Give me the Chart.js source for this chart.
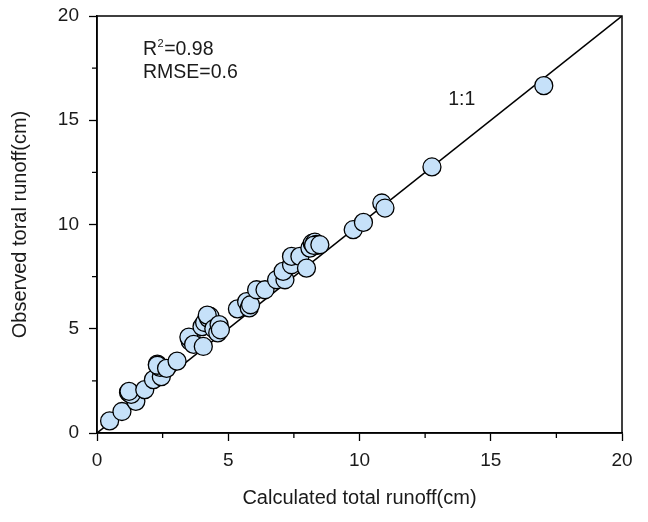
<!DOCTYPE html>
<html>
<head>
<meta charset="utf-8">
<script src="https://cdn.jsdelivr.net/npm/chart.js@4/dist/chart.umd.min.js"></script>
<style>
  html, body { margin: 0; padding: 0; background: #fff; }
  #wrap { width: 648px; height: 522px; }
</style>
</head>
<body>
<div id="wrap"><canvas id="c" width="648" height="522"></canvas></div>
<script>
// ---- Data ----
const calculated = [
  0.48, 0.95, 1.48, 1.20, 1.25, 1.30, 1.22, 1.82, 2.15, 2.45,
  2.30, 2.35, 2.40, 2.30, 2.65, 3.05, 3.55, 3.60, 3.50, 3.68,
  4.05, 4.00, 4.10, 4.25, 4.30, 4.20, 4.45, 4.60, 4.65, 4.70,
  5.35, 5.70, 5.80, 5.85, 6.08, 6.40, 6.84, 7.16, 7.09, 7.41,
  7.41, 7.73, 7.98, 8.11, 8.20, 8.30, 8.35, 8.40, 8.25, 8.49,
  9.76, 10.15, 10.85, 10.97, 12.76, 17.02
];
const observed = [
  0.58, 1.03, 1.52, 1.95, 1.90, 1.85, 2.00, 2.08, 2.56, 2.70,
  3.30, 3.22, 3.15, 3.25, 3.10, 3.45, 4.40, 4.50, 4.60, 4.25,
  4.15, 5.10, 5.30, 5.50, 5.60, 5.65, 5.00, 4.80, 5.20, 4.95,
  5.95, 6.30, 6.00, 6.15, 6.87, 6.87, 7.35, 7.35, 7.75, 8.07,
  8.47, 8.47, 7.91, 8.87, 9.10, 9.15, 9.05, 9.00, 9.00, 9.03,
  9.75, 10.10, 11.03, 10.79, 12.76, 16.66
];
const oneToOneX = [0, 20];
const oneToOneY = [0, 20];
const majorTicks = [0, 5, 10, 15, 20];
const minorTicks = [2.5, 7.5, 12.5, 17.5];
const xTitle = 'Calculated total runoff(cm)';
const yTitle = 'Observed toral runoff(cm)';
const statR2 = '0.98';
const statRMSE = '0.6';
const lineLabel = '1:1';

const FONT = "'Liberation Sans', Arial, sans-serif";
const TXT = '#1a1a1a';

const points = calculated.map((x, i) => ({ x: x, y: observed[i] }));
const linePts = oneToOneX.map((x, i) => ({ x: x, y: oneToOneY[i] }));

const decor = {
  id: 'decor',
  afterDraw(chart) {
    const { ctx, chartArea: a, scales: { x, y } } = chart;
    ctx.save();
    ctx.strokeStyle = '#000';
    ctx.lineWidth = 1.5;
    ctx.strokeRect(a.left, a.top, a.right - a.left, a.bottom - a.top);
    ctx.lineWidth = 1.3;
    ctx.beginPath();
    minorTicks.forEach(v => {
      const px = x.getPixelForValue(v);
      ctx.moveTo(px, a.bottom); ctx.lineTo(px, a.bottom + 5);
      const py = y.getPixelForValue(v);
      ctx.moveTo(a.left - 5, py); ctx.lineTo(a.left, py);
    });
    ctx.stroke();
    ctx.fillStyle = TXT;
    ctx.textBaseline = 'alphabetic';
    ctx.textAlign = 'left';
    ctx.font = '19.5px ' + FONT;
    const tx = x.getPixelForValue(1.75);
    const b1 = y.getPixelForValue(18.15);
    ctx.fillText('R', tx, b1);
    const w = ctx.measureText('R').width;
    ctx.font = '11px ' + FONT;
    ctx.fillText('2', tx + w + 0.5, b1 - 8);
    const w2 = ctx.measureText('2').width;
    ctx.font = '19.5px ' + FONT;
    ctx.fillText('=' + statR2, tx + w + w2 + 1, b1);
    ctx.fillText('RMSE=' + statRMSE, tx, y.getPixelForValue(17.04));
    ctx.textBaseline = 'middle';
    ctx.fillText(lineLabel, x.getPixelForValue(13.38), y.getPixelForValue(16.0));
    ctx.restore();
  }
};

new Chart(document.getElementById('c'), {
  type: 'scatter',
  data: {
    datasets: [
      {
        type: 'line',
        data: linePts,
        borderColor: '#000',
        borderWidth: 1.5,
        pointRadius: 0,
        fill: false,
        order: 2
      },
      {
        data: points,
        backgroundColor: '#c6e1f9',
        borderColor: '#000',
        borderWidth: 1.3,
        pointRadius: 9,
        pointHoverRadius: 9,
        order: 1
      }
    ]
  },
  options: {
    responsive: false,
    animation: false,
    devicePixelRatio: 1,
    layout: { padding: { top: 16, right: 26, left: 0, bottom: 0 } },
    plugins: { legend: { display: false }, tooltip: { enabled: false } },
    scales: {
      x: {
        type: 'linear', min: 0, max: 20,
        afterBuildTicks: s => { s.ticks = majorTicks.map(v => ({ value: v })); },
        afterFit: s => { s.height = 89; s.paddingLeft = 0; s.paddingRight = 0; },
        grid: { drawOnChartArea: false, drawTicks: true, tickLength: 8, tickWidth: 1.3, tickColor: '#000' },
        border: { display: true, color: '#000', width: 1.5 },
        ticks: { color: TXT, font: { family: FONT, size: 19 }, padding: 8, maxRotation: 0 },
        title: { display: true, text: xTitle, color: TXT, font: { family: FONT, size: 20 }, padding: { top: 0, bottom: 12 } }
      },
      y: {
        type: 'linear', min: 0, max: 20,
        afterBuildTicks: s => { s.ticks = majorTicks.map(v => ({ value: v })); },
        afterFit: s => { s.width = 97; s.paddingTop = 0; s.paddingBottom = 0; },
        grid: { drawOnChartArea: false, drawTicks: true, tickLength: 8, tickWidth: 1.3, tickColor: '#000' },
        border: { display: true, color: '#000', width: 1.5 },
        ticks: { color: TXT, font: { family: FONT, size: 19 }, padding: 10 },
        title: { display: true, text: yTitle, color: TXT, font: { family: FONT, size: 20 }, padding: { top: 8, bottom: 0 } }
      }
    }
  },
  plugins: [decor]
});
</script>
</body>
</html>
